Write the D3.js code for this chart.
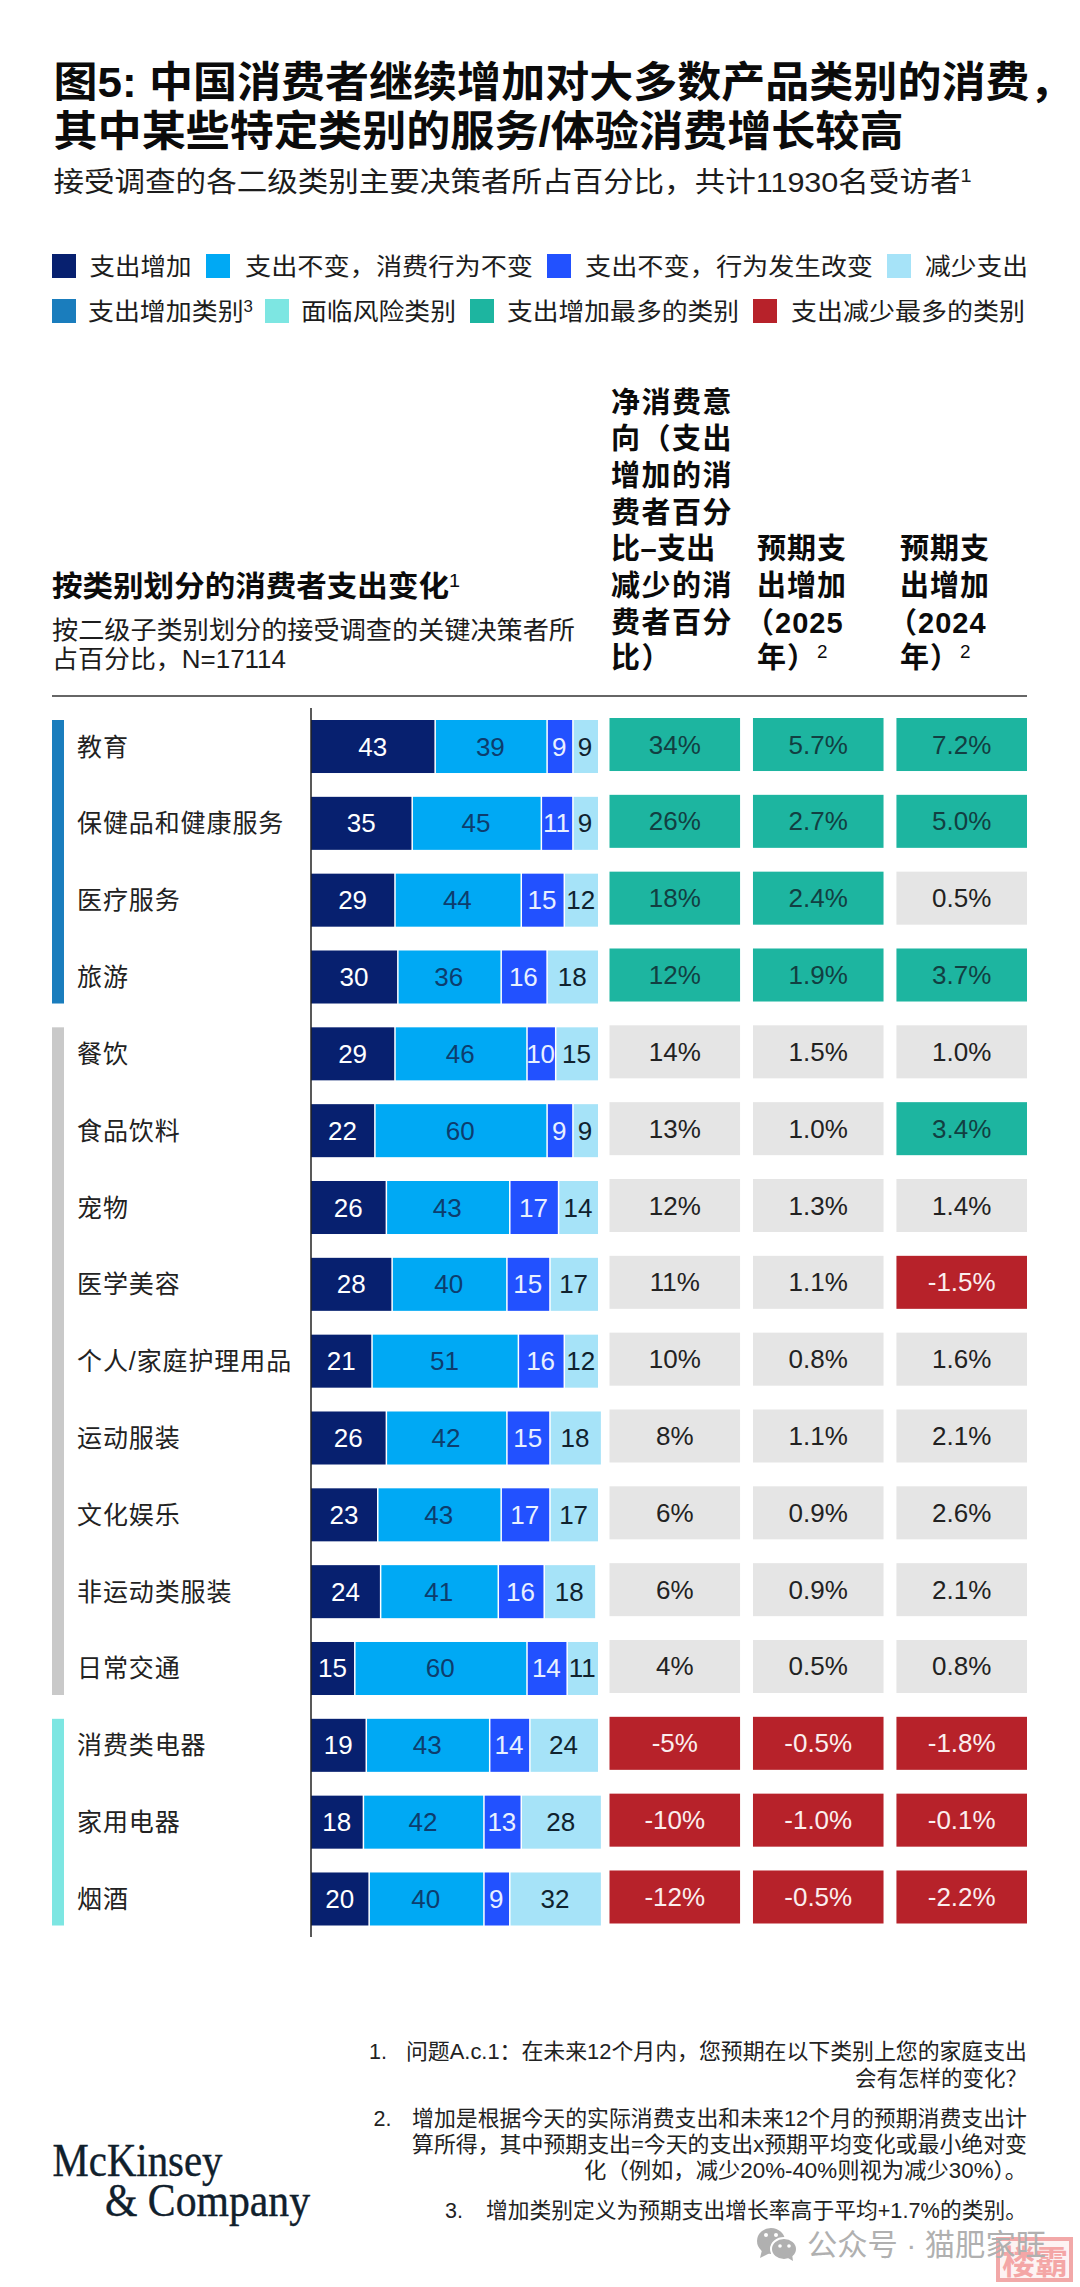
<!DOCTYPE html>
<html>
  <head>
    <meta charset="utf-8">
    <title>图5</title>
    <style>
    body {
        margin: 0px;
        background: #fff;
        overflow: hidden;
    }

    text {
        font-family: "Liberation Sans", "Noto Sans CJK SC", sans-serif;
    }
    </style>
    <script src="https://d3js.org/d3.v7.min.js"></script>
  </head>
  <body>
    <svg width="1080" height="2287"></svg>
    <script>
        //chart data
        const categories = ['教育', '保健品和健康服务', '医疗服务', '旅游', '餐饮', '食品饮料', '宠物', '医学美容',
            '个人/家庭护理用品', '运动服装', '文化娱乐', '非运动类服装', '日常交通', '消费类电器', '家用电器', '烟酒'];
        const increase = [43, 35, 29, 30, 29, 22, 26, 28, 21, 26, 23, 24, 15, 19, 18, 20];
        const sameSpend = [39, 45, 44, 36, 46, 60, 43, 40, 51, 42, 43, 41, 60, 43, 42, 40];
        const changed = [9, 11, 15, 16, 10, 9, 17, 15, 16, 15, 17, 16, 14, 14, 13, 9];
        const decrease = [9, 9, 12, 18, 15, 9, 14, 17, 12, 18, 17, 18, 11, 24, 28, 32];
        const netIntent = ['34%', '26%', '18%', '12%', '14%', '13%', '12%', '11%', '10%', '8%', '6%', '6%', '4%', '-5%', '-10%', '-12%'];
        const growth2025 = ['5.7%', '2.7%', '2.4%', '1.9%', '1.5%', '1.0%', '1.3%', '1.1%', '0.8%', '1.1%', '0.9%', '0.9%', '0.5%', '-0.5%', '-1.0%', '-0.5%'];
        const growth2024 = ['7.2%', '5.0%', '0.5%', '3.7%', '1.0%', '3.4%', '1.4%', '-1.5%', '1.6%', '2.1%', '2.6%', '2.1%', '0.8%', '-1.8%', '-0.1%', '-2.2%'];

        //which cells are highlighted: t = most increase, r = most decrease, n = neither
        const netFlag = 'ttttnnnnnnnnnrrr';
        const flag2025 = 'ttttnnnnnnnnnrrr';
        const flag2024 = 'ttntntnrnnnnnrrr';

        //the three side groups, first and last row of each
        const groupFirst = [0, 4, 13];
        const groupLast = [3, 12, 15];

        const legendRow1 = ['支出增加', '支出不变\uFF0C消费行为不变', '支出不变\uFF0C行为发生改变', '减少支出'];
        const legendRow2 = ['支出增加类别', '面临风险类别', '支出增加最多的类别', '支出减少最多的类别'];

        const colors = {
            increase: '#07206f', same: '#00a9f4', changed: '#2251ff', decrease: '#a6e3f8',
            groupUp: '#1a7dbd', groupRisk: '#7de6e2', groupMid: '#c9c9c9',
            top: '#1db5a0', bottom: '#b7222a', none: '#e5e5e5'
        };

        const svg = d3.select('svg');

        //helper for all text, w stretches the line to the width it has in the picture
        function label(x, y, str, size, opts) {
            opts = opts || {};
            const t = svg.append('text')
                .attr('x', x)
                .attr('y', y)
                .attr('font-size', size)
                .attr('font-weight', opts.bold ? 700 : 400)
                .attr('fill', opts.fill || '#1c1c1c')
                .attr('text-anchor', opts.anchor || 'start')
                .text(str);
            if (opts.sup) {
                t.append('tspan')
                    .attr('dy', -size * 0.35)
                    .attr('dx', opts.supDx || 0)
                    .attr('font-size', size * 0.65)
                    .attr('font-weight', 400)
                    .text(opts.sup);
            }
            if (opts.w) {
                t.attr('textLength', opts.w).attr('lengthAdjust', 'spacingAndGlyphs');
            }
            return t;
        }

        //title block
        label(53.5, 97, '图5: 中国消费者继续增加对大多数产品类别的消费\uFF0C', 42, {bold: true, fill: '#0b0b0b', w: 1020});
        label(53.5, 146, '其中某些特定类别的服务/体验消费增长较高', 42, {bold: true, fill: '#0b0b0b', w: 850});
        label(53.5, 192, '接受调查的各二级类别主要决策者所占百分比\uFF0C共计11930名受访者', 28, {sup: '1', w: 918});

        //legend
        const legend1 = [
            {sw: 52, tx: 89.5, w: 102, c: colors.increase},
            {sw: 206, tx: 245, w: 288, c: colors.same},
            {sw: 547, tx: 585, w: 288, c: colors.changed},
            {sw: 887, tx: 925, w: 103, c: colors.decrease}
        ];
        legend1.forEach((d, i) => {
            svg.append('rect').attr('x', d.sw).attr('y', 254).attr('width', 24).attr('height', 24).attr('fill', d.c);
            label(d.tx, 275, legendRow1[i], 24, {w: d.w});
        });
        const legend2 = [
            {sw: 52, tx: 88, w: 165, c: colors.groupUp, sup: '3'},
            {sw: 265, tx: 301, w: 155, c: colors.groupRisk},
            {sw: 470, tx: 507, w: 232, c: colors.top},
            {sw: 753, tx: 791, w: 234, c: colors.bottom}
        ];
        legend2.forEach((d, i) => {
            svg.append('rect').attr('x', d.sw).attr('y', 299).attr('width', 24).attr('height', 24).attr('fill', d.c);
            label(d.tx, 320, legendRow2[i], 24, {w: d.w, sup: d.sup});
        });

        //column headers
        label(52, 597, '按类别划分的消费者支出变化', 29, {bold: true, fill: '#0b0b0b', sup: '1', w: 408});
        label(52, 639, '按二级子类别划分的接受调查的关键决策者所', 25, {w: 523});
        label(52, 668, '占百分比\uFF0CN=17114', 25, {w: 234});

        const netHeader = ['净消费意', '向\uFF08支出', '增加的消', '费者百分', '比–支出', '减少的消', '费者百分', '比\uFF09'];
        const netHeaderY = [413, 449, 486, 523, 559, 596, 633, 668];
        netHeader.forEach((s, i) => label(611, netHeaderY[i], s, 29, {bold: true, fill: '#0b0b0b'}).attr('letter-spacing', s.includes('–') ? 0.4 : 1.5));

        [['预期支', '出增加', '\uFF082025', '年\uFF09'], ['预期支', '出增加', '\uFF082024', '年\uFF09']].forEach((lines, c) => {
            const x0 = c == 0 ? 757 : 900;
            lines.forEach((s, i) => {
                label(i == 2 ? x0 - 12 : x0, [559, 596, 633, 668][i], s, 29, {bold: true, fill: '#0b0b0b', sup: i == 3 ? '2' : null})
                    .attr('letter-spacing', 1);
            });
        });

        svg.append('line').attr('x1', 52).attr('x2', 1027).attr('y1', 696).attr('y2', 696)
            .attr('stroke', '#333').attr('stroke-width', 1.5);

        //scales
        const y = d3.scaleBand().domain(d3.range(categories.length)).range([720, 1925.5]).paddingInner(0.31);
        const x = d3.scaleLinear().domain([0, 100]).range([311, 598]);
        const colX = d3.scaleBand().domain([0, 1, 2]).range([609.5, 1027]).paddingInner(0.09);

        //side group bars
        const groupColors = [colors.groupUp, colors.groupMid, colors.groupRisk];
        svg.selectAll('.group').data(groupFirst)
            .enter().append('rect')
                .attr('class', 'group')
                .attr('x', 52)
                .attr('width', 12)
                .attr('y', d => y(d))
                .attr('height', (d, i) => y(groupLast[i]) + y.bandwidth() - y(d))
                .attr('fill', (d, i) => groupColors[i]);

        //row labels
        categories.forEach((c, i) => {
            label(77, y(i) + y.bandwidth() / 2 + 9, c, 25, {fill: '#222'}).attr('letter-spacing', 0.9);
        });

        //stacked bars
        const stackKeys = ['increase', 'same', 'changed', 'decrease'];
        const stackData = categories.map((c, i) => ({
            row: i, increase: increase[i], same: sameSpend[i], changed: changed[i], decrease: decrease[i]
        }));
        const series = d3.stack().keys(stackKeys)(stackData);
        const textColors = {increase: '#fff', same: '#0d3d6e', changed: '#e8f0ff', decrease: '#10222e'};

        const layers = svg.selectAll('.layer').data(series)
            .enter().append('g')
                .attr('class', 'layer');

        layers.selectAll('rect').data(d => d)
            .enter().append('rect')
                .attr('x', d => x(d[0]) + (d[0] > 0 ? 1.5 : 0))
                .attr('width', d => x(d[1]) - x(d[0]) - (d[0] > 0 ? 1.5 : 0))
                .attr('y', d => y(d.data.row))
                .attr('height', y.bandwidth())
                .attr('fill', function() { return colors[d3.select(this.parentNode).datum().key]; });

        layers.selectAll('text').data(d => d)
            .enter().append('text')
                .attr('x', d => (x(d[0]) + x(d[1])) / 2)
                .attr('y', d => y(d.data.row) + y.bandwidth() / 2 + 9)
                .attr('text-anchor', 'middle')
                .attr('font-size', 26)
                .attr('fill', function() { return textColors[d3.select(this.parentNode).datum().key]; })
                .text(d => d[1] - d[0]);

        //axis line left of the bars
        svg.append('line').attr('x1', 311).attr('x2', 311).attr('y1', 708).attr('y2', 1937)
            .attr('stroke', '#222').attr('stroke-width', 1.5);

        //three value columns
        const cols = [
            {vals: netIntent, flags: netFlag},
            {vals: growth2025, flags: flag2025},
            {vals: growth2024, flags: flag2024}
        ];
        const cellFill = {t: colors.top, r: colors.bottom, n: colors.none};
        const cellText = {t: '#123f42', r: '#fbeeee', n: '#222'};

        cols.forEach((col, c) => {
            const g = svg.append('g');
            g.selectAll('rect').data(col.vals)
                .enter().append('rect')
                    .attr('x', colX(c))
                    .attr('width', colX.bandwidth())
                    .attr('y', (d, i) => y(i) - 2)
                    .attr('height', y.bandwidth())
                    .attr('fill', (d, i) => cellFill[col.flags[i]]);
            g.selectAll('text').data(col.vals)
                .enter().append('text')
                    .attr('x', colX(c) + colX.bandwidth() / 2)
                    .attr('y', (d, i) => y(i) + y.bandwidth() / 2 + 7)
                    .attr('text-anchor', 'middle')
                    .attr('font-size', 26)
                    .attr('fill', (d, i) => cellText[col.flags[i]])
                    .text(d => d);
        });

        //footnotes, right aligned
        const notes = [
            {y: 2059, s: '问题A.c.1\uFF1A在未来12个月内\uFF0C您预期在以下类别上您的家庭支出', w: 621},
            {y: 2086, s: '会有怎样的变化\uFF1F', w: 172},
            {y: 2126, s: '增加是根据今天的实际消费支出和未来12个月的预期消费支出计', w: 615},
            {y: 2152, s: '算所得\uFF0C其中预期支出=今天的支出x预期平均变化或最小绝对变', w: 615},
            {y: 2178, s: '化\uFF08例如\uFF0C减少20%-40%则视为减少30%\uFF09。', w: 443},
            {y: 2218, s: '增加类别定义为预期支出增长率高于平均+1.7%的类别。', w: 541}
        ];
        notes.forEach(d => label(1027, d.y, d.s, 21.5, {anchor: 'end', w: d.w, fill: '#222'}));
        label(369, 2059, '1.', 21.5, {fill: '#222'});
        label(373.5, 2126, '2.', 21.5, {fill: '#222'});
        label(445, 2218, '3.', 21.5, {fill: '#222'});

        //logo
        label(52.5, 2176, 'McKinsey', 46, {fill: '#10202c', w: 170}).style('font-family', '"Liberation Serif", serif').attr('stroke', '#10202c').attr('stroke-width', 0.4);
        label(105, 2216, '& Company', 46, {fill: '#10202c', w: 205}).style('font-family', '"Liberation Serif", serif').attr('stroke', '#10202c').attr('stroke-width', 0.4);

        //stamp, then the grey watermark over it
        svg.append('rect').attr('x', 998).attr('y', 2239).attr('width', 73).attr('height', 41)
            .attr('fill', '#fdf3f3').attr('stroke', '#f2a8a8').attr('stroke-width', 4);
        label(1002, 2274, '楼霸', 33, {bold: true, fill: '#f4a6a6', w: 66});

        const wm = svg.append('g').attr('fill', '#b0b0b0');
        wm.append('ellipse').attr('cx', 771).attr('cy', 2241).attr('rx', 14).attr('ry', 13);
        wm.append('path').attr('d', 'M762 2250 L760 2258 L770 2253 Z');
        wm.append('ellipse').attr('cx', 784).attr('cy', 2249).attr('rx', 13).attr('ry', 11).attr('stroke', '#fff').attr('stroke-width', 2);
        wm.append('path').attr('d', 'M788 2258 L793 2261 L792 2254 Z');
        wm.append('circle').attr('cx', 766).attr('cy', 2235).attr('r', 2).attr('fill', '#fff');
        wm.append('circle').attr('cx', 776).attr('cy', 2235).attr('r', 2).attr('fill', '#fff');
        wm.append('circle').attr('cx', 780).attr('cy', 2246).attr('r', 1.8).attr('fill', '#fff');
        wm.append('circle').attr('cx', 789).attr('cy', 2246).attr('r', 1.8).attr('fill', '#fff');
        label(807, 2255, '公众号 · 猫肥家旺', 30, {fill: '#b0b0b0', w: 239});
    </script>
  </body>
</html>
